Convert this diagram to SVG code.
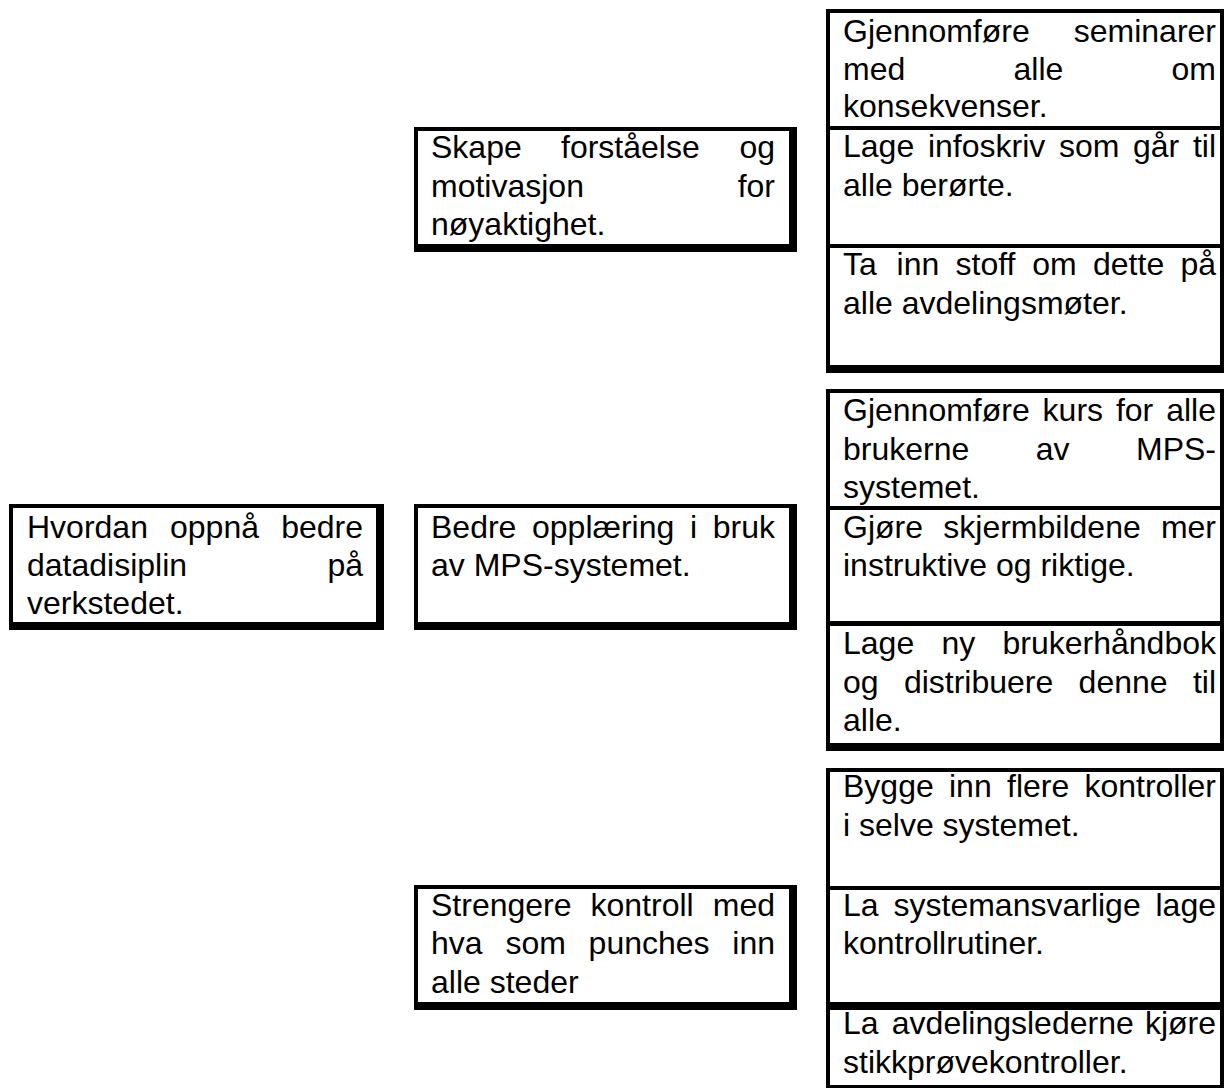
<svg xmlns="http://www.w3.org/2000/svg" width="1224" height="1088" viewBox="0 0 1224 1088">
<style>
.sh{fill:#000}
.fc{fill:#fff}
text{font-family:"Liberation Sans",Arial,sans-serif;font-size:32px;fill:#000}
.e{text-anchor:end}
</style>
<rect x="0" y="0" width="1224" height="1088" fill="#fff"/>
<g id="connectors"/>
<g id="n-root">
<rect class="sh" x="9" y="504" width="375" height="126"/>
<rect class="fc" x="13" y="508" width="363" height="114"/>
<text y="538"><tspan x="27">Hvordan</tspan><tspan x="170">oppnå</tspan><tspan class="e" x="363">bedre</tspan></text>
<text y="576"><tspan x="27">datadisiplin</tspan><tspan class="e" x="363">på</tspan></text>
<text x="27" y="614">verkstedet.</text>
</g>
<g id="n-skape">
<rect class="sh" x="414" y="127" width="383" height="125"/>
<rect class="fc" x="418" y="131" width="371" height="113"/>
<text y="158"><tspan x="431">Skape</tspan><tspan x="561">forståelse</tspan><tspan class="e" x="775">og</tspan></text>
<text y="197"><tspan x="431">motivasjon</tspan><tspan class="e" x="775">for</tspan></text>
<text x="431" y="235">nøyaktighet.</text>
</g>
<g id="n-bedre">
<rect class="sh" x="414" y="504" width="383" height="126"/>
<rect class="fc" x="418" y="508" width="371" height="114"/>
<text y="538"><tspan x="431">Bedre</tspan><tspan x="532">opplæring</tspan><tspan x="690">i</tspan><tspan class="e" x="775">bruk</tspan></text>
<text x="431" y="576">av MPS-systemet.</text>
</g>
<g id="n-strengere">
<rect class="sh" x="414" y="885" width="383" height="125"/>
<rect class="fc" x="418" y="889" width="371" height="113"/>
<text y="916"><tspan x="431">Strengere</tspan><tspan x="590.5">kontroll</tspan><tspan class="e" x="775">med</tspan></text>
<text y="954"><tspan x="431">hva</tspan><tspan x="505.4">som</tspan><tspan x="588.6">punches</tspan><tspan class="e" x="775">inn</tspan></text>
<text x="431" y="993">alle steder</text>
</g>
<g id="n-seminarer">
<rect class="sh" x="826" y="9" width="402" height="126"/>
<rect class="fc" x="830" y="13" width="390" height="113"/>
<text y="42"><tspan x="843">Gjennomføre</tspan><tspan class="e" x="1216">seminarer</tspan></text>
<text y="80"><tspan x="843">med</tspan><tspan x="1013.5">alle</tspan><tspan class="e" x="1216">om</tspan></text>
<text x="843" y="117">konsekvenser.</text>
</g>
<g id="n-infoskriv">
<rect class="sh" x="826" y="126" width="402" height="126"/>
<rect class="fc" x="830" y="130" width="390" height="114"/>
<text y="157"><tspan x="843">Lage</tspan><tspan x="927.9">infoskriv</tspan><tspan x="1058.9">som</tspan><tspan x="1133">går</tspan><tspan class="e" x="1216">til</tspan></text>
<text x="843" y="196">alle berørte.</text>
</g>
<g id="n-avdelingsmoter">
<rect class="sh" x="826" y="244" width="402" height="129"/>
<rect class="fc" x="830" y="248" width="390" height="117"/>
<text y="275"><tspan x="843">Ta</tspan><tspan x="896.6">inn</tspan><tspan x="955.5">stoff</tspan><tspan x="1032.3">om</tspan><tspan x="1093">dette</tspan><tspan class="e" x="1216">på</tspan></text>
<text x="843" y="314">alle avdelingsmøter.</text>
</g>
<g id="n-kurs">
<rect class="sh" x="826" y="389" width="402" height="126"/>
<rect class="fc" x="830" y="393" width="390" height="113"/>
<text y="421"><tspan x="843">Gjennomføre</tspan><tspan x="1042.6">kurs</tspan><tspan x="1115.9">for</tspan><tspan class="e" x="1216">alle</tspan></text>
<text y="460"><tspan x="843">brukerne</tspan><tspan x="1035.8">av</tspan><tspan class="e" x="1216">MPS-</tspan></text>
<text x="843" y="498">systemet.</text>
</g>
<g id="n-skjermbilder">
<rect class="sh" x="826" y="506" width="402" height="124"/>
<rect class="fc" x="830" y="510" width="390" height="111"/>
<text y="538"><tspan x="843">Gjøre</tspan><tspan x="943.3">skjermbildene</tspan><tspan class="e" x="1216">mer</tspan></text>
<text x="843" y="576">instruktive og riktige.</text>
</g>
<g id="n-brukerhandbok">
<rect class="sh" x="826" y="621" width="402" height="130"/>
<rect class="fc" x="830" y="626" width="390" height="117"/>
<text y="654"><tspan x="843">Lage</tspan><tspan x="941.5">ny</tspan><tspan class="e" x="1216">brukerhåndbok</tspan></text>
<text y="693"><tspan x="843">og</tspan><tspan x="903.9">distribuere</tspan><tspan x="1078.6">denne</tspan><tspan class="e" x="1216">til</tspan></text>
<text x="843" y="731">alle.</text>
</g>
<g id="n-kontroller">
<rect class="sh" x="826" y="768" width="402" height="127"/>
<rect class="fc" x="830" y="772" width="390" height="114"/>
<text y="797"><tspan x="843">Bygge</tspan><tspan x="949">inn</tspan><tspan x="1007">flere</tspan><tspan class="e" x="1216">kontroller</tspan></text>
<text x="843" y="836">i selve systemet.</text>
</g>
<g id="n-kontrollrutiner">
<rect class="sh" x="826" y="886" width="402" height="124"/>
<rect class="fc" x="830" y="890" width="390" height="112"/>
<text y="916"><tspan x="843">La</tspan><tspan x="893.5">systemansvarlige</tspan><tspan class="e" x="1216">lage</tspan></text>
<text x="843" y="954">kontrollrutiner.</text>
</g>
<g id="n-stikkprove">
<rect class="sh" x="826" y="1002" width="402" height="91"/>
<rect class="fc" x="830" y="1010" width="390" height="75"/>
<text y="1034"><tspan x="843">La</tspan><tspan x="891.8">avdelingslederne</tspan><tspan class="e" x="1216">kjøre</tspan></text>
<text x="843" y="1073">stikkprøvekontroller.</text>
</g>
</svg>
